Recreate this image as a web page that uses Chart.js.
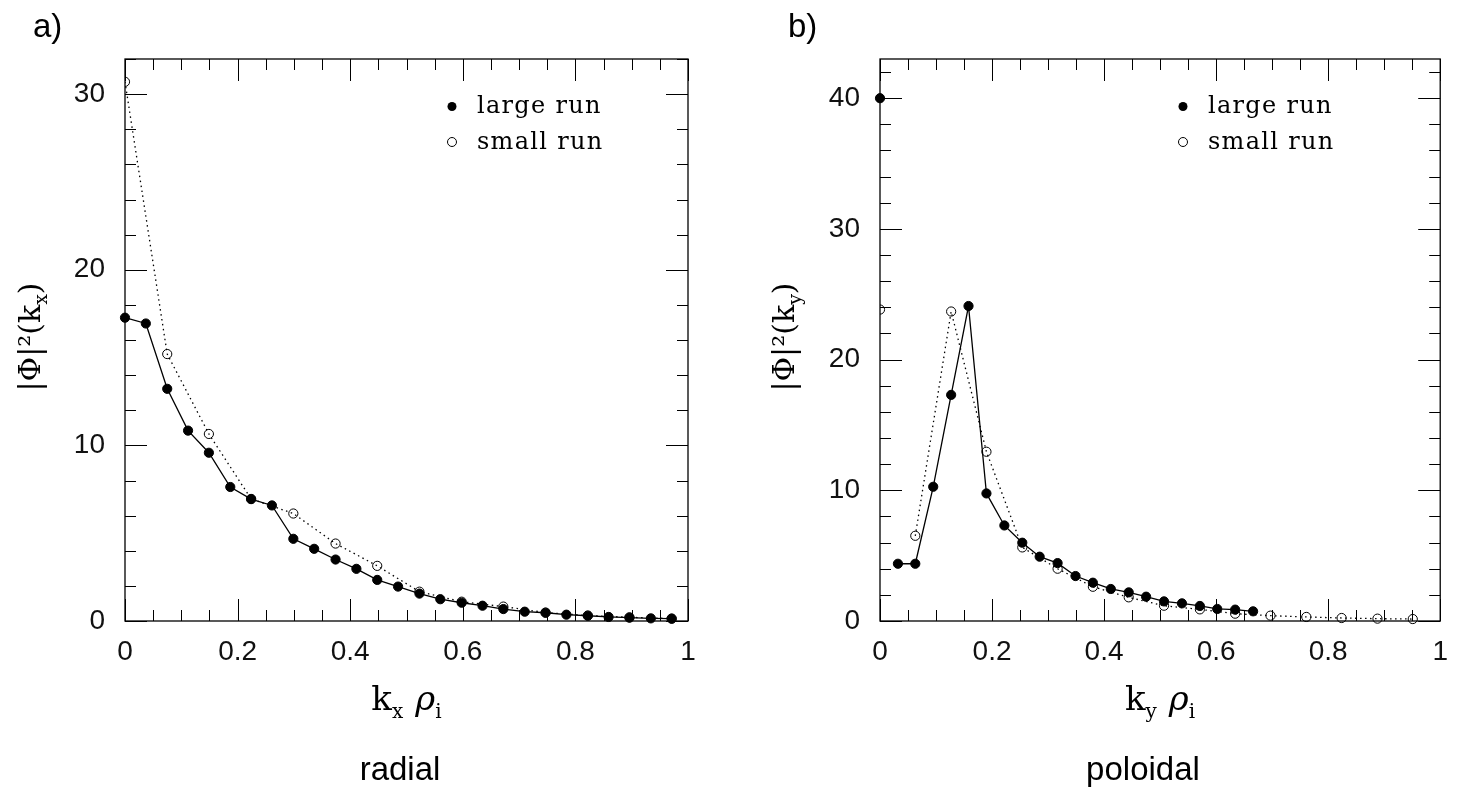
<!DOCTYPE html>
<html>
<head>
<meta charset="utf-8">
<script src="https://cdn.jsdelivr.net/npm/chart.js@4.4.0/dist/chart.umd.min.js"></script>
<style>
html, body { margin: 0; padding: 0; background: #fff; }
#wrap { position: relative; width: 1462px; height: 788px; }
canvas { position: absolute; top: 0; }
#c1 { left: 0; }
#c2 { left: 731px; }
</style>
</head>
<body>
<div id="wrap">
  <canvas id="c1" width="731" height="788"></canvas>
  <canvas id="c2" width="731" height="788"></canvas>
</div>
<script>
// panel a) radial spectrum
const kxLarge = [0, 0.037, 0.075, 0.112, 0.149, 0.187, 0.224, 0.261, 0.299, 0.336, 0.374, 0.411, 0.448, 0.485,
                 0.523, 0.560, 0.598, 0.635, 0.672, 0.710, 0.747, 0.784, 0.822, 0.859, 0.896, 0.934, 0.971];
const phiXLarge = [17.27, 16.94, 13.22, 10.84, 9.58, 7.63, 6.94, 6.58, 4.68, 4.11, 3.50, 2.97, 2.34, 1.96,
                   1.56, 1.24, 1.04, 0.87, 0.68, 0.53, 0.47, 0.36, 0.30, 0.23, 0.19, 0.15, 0.13];
const kxSmall = [0, 0.075, 0.149, 0.224, 0.299, 0.374, 0.448, 0.523, 0.598, 0.672, 0.747, 0.822, 0.896, 0.971];
const phiXSmall = [30.7, 15.2, 10.65, 6.95, 6.12, 4.41, 3.14, 1.67, 1.10, 0.82, 0.48, 0.31, 0.21, 0.14];

// panel b) poloidal spectrum
const kyLarge = [0, 0.032, 0.063, 0.095, 0.127, 0.158, 0.190, 0.222, 0.254, 0.285, 0.317,
                 0.349, 0.380, 0.412, 0.444, 0.475, 0.507, 0.539, 0.571, 0.602, 0.634, 0.666];
const phiYLarge = [40.0, 4.38, 4.38, 10.27, 17.3, 24.1, 9.76, 7.31, 5.99, 4.92, 4.43,
                   3.44, 2.93, 2.45, 2.19, 1.86, 1.50, 1.35, 1.15, 0.92, 0.87, 0.74];
const kySmall = [0, 0.063, 0.127, 0.190, 0.254, 0.317, 0.380, 0.444, 0.507, 0.571, 0.634, 0.697, 0.761, 0.824, 0.888, 0.951];
const phiYSmall = [23.83, 6.52, 23.68, 12.95, 5.63, 4.0, 2.62, 1.81, 1.17, 0.89, 0.56, 0.41, 0.31, 0.23, 0.18, 0.15];

const seriesNames = ['large run', 'small run'];
const xTicks = [0, 0.2, 0.4, 0.6, 0.8, 1];
const xTickLabels = ['0', '0.2', '0.4', '0.6', '0.8', '1'];
const yTicksA = [0, 10, 20, 30];
const yTicksB = [0, 10, 20, 30, 40];

const SERIF = '"DejaVu Serif", serif';
const SANS = '"Liberation Sans", Arial, sans-serif';

function pts(xs, ys) {
    return xs.map((x, i) => ({ x: x, y: ys[i] }));
}

// draw a run of text pieces (for subscripts), centred on cx
function drawParts(ctx, parts, cx, y) {
    let w = 0;
    parts.forEach(p => { ctx.font = p.f; w += ctx.measureText(p.t).width + (p.gap || 0); });
    let x = cx - w / 2;
    parts.forEach(p => {
        ctx.font = p.f;
        ctx.fillText(p.t, x, y + (p.dy || 0));
        x += ctx.measureText(p.t).width + (p.gap || 0);
    });
}

// inward ticks on all four sides + frame
const framePlugin = {
    id: 'frame',
    afterDraw(chart, args, o) {
        const { ctx, chartArea: a, scales: { x, y } } = chart;
        ctx.save();
        ctx.strokeStyle = '#000';
        ctx.lineWidth = 1;
        ctx.beginPath();
        for (let n = 0; n <= 20; n++) {
            const px = Math.round(x.getPixelForValue(n * 0.05)) + 0.5;
            const len = n % 4 === 0 ? 22 : 11;
            ctx.moveTo(px, a.bottom); ctx.lineTo(px, a.bottom - len);
            ctx.moveTo(px, a.top); ctx.lineTo(px, a.top + len);
        }
        for (let v = 0; v <= o.yMax; v += 2) {
            const py = Math.round(y.getPixelForValue(v)) + 0.5;
            const len = v % 10 === 0 ? 22 : 11;
            ctx.moveTo(a.left, py); ctx.lineTo(a.left + len, py);
            ctx.moveTo(a.right, py); ctx.lineTo(a.right - len, py);
        }
        ctx.stroke();
        ctx.lineWidth = 1.3;
        ctx.strokeRect(a.left, a.top, a.right - a.left, a.bottom - a.top);
        ctx.restore();
    }
};

// titles, panel letter, legend
const textPlugin = {
    id: 'texts',
    afterDraw(chart, args, o) {
        const { ctx, chartArea: a } = chart;
        ctx.save();
        ctx.fillStyle = '#000';
        ctx.textBaseline = 'alphabetic';
        ctx.textAlign = 'left';

        ctx.font = '33px ' + SANS;
        ctx.fillText(o.letter, o.letterX, 37);

        const cx = (a.left + a.right) / 2;
        drawParts(ctx, [
            { t: 'k', f: '34px ' + SERIF },
            { t: o.sym, f: '20px ' + SERIF, dy: 8, gap: 12 },
            { t: 'ρ', f: 'italic 34px ' + SERIF },
            { t: 'i', f: '20px ' + SERIF, dy: 8 }
        ], cx, 710);

        ctx.font = '33px ' + SANS;
        ctx.textAlign = 'center';
        ctx.fillText(o.sub, o.subX, 780);
        ctx.textAlign = 'left';

        ctx.save();
        ctx.translate(o.yTitleX, 337);
        ctx.rotate(-Math.PI / 2);
        drawParts(ctx, [
            { t: '|Φ|²(k', f: '30px ' + SERIF },
            { t: o.sym, f: '19px ' + SERIF, dy: 7 },
            { t: ')', f: '30px ' + SERIF }
        ], 0, 0);
        ctx.restore();

        // legend
        const lx = 452;
        ctx.beginPath();
        ctx.arc(lx, 106.5, 4.5, 0, Math.PI * 2);
        ctx.fill();
        ctx.beginPath();
        ctx.lineWidth = 1;
        ctx.arc(lx, 142, 4.5, 0, Math.PI * 2);
        ctx.stroke();
        ctx.font = '24px ' + SERIF;
        ctx.letterSpacing = '1.3px';
        ctx.fillText(seriesNames[0], lx + 25, 113);
        ctx.fillText(seriesNames[1], lx + 25, 149);
        ctx.letterSpacing = '0px';
        ctx.restore();
    }
};

function makeChart(id, large, small, opts) {
    const ctx = document.getElementById(id).getContext('2d');
    const skipFirst = c => (opts.skipFirst && c.p0DataIndex === 0) ? 'rgba(0,0,0,0)' : '#000';
    return new Chart(ctx, {
        type: 'line',
        data: {
            datasets: [{
                label: seriesNames[0],
                data: large,
                borderColor: '#000',
                borderWidth: 1.3,
                pointRadius: 4.6,
                pointBackgroundColor: '#000',
                pointBorderColor: '#000',
                pointBorderWidth: 1,
                tension: 0,
                clip: false,
                segment: { borderColor: skipFirst }
            }, {
                label: seriesNames[1],
                data: small,
                borderColor: '#000',
                borderWidth: 1.3,
                borderDash: [1.5, 3.5],
                pointRadius: 4.6,
                pointBackgroundColor: 'rgba(0,0,0,0)',
                pointBorderColor: '#000',
                pointBorderWidth: 1,
                tension: 0,
                clip: { left: 0, top: 10, right: 10, bottom: 10 },
                segment: { borderColor: skipFirst }
            }]
        },
        options: {
            responsive: false,
            animation: false,
            events: [],
            layout: { padding: { left: 0, right: opts.padRight, top: 59, bottom: 0 } },
            plugins: {
                legend: { display: false },
                tooltip: { enabled: false },
                frame: { yMax: opts.yMax },
                texts: opts.texts
            },
            scales: {
                x: {
                    type: 'linear',
                    min: 0,
                    max: 1,
                    grid: { display: false, drawTicks: false },
                    border: { display: false },
                    afterBuildTicks: s => { s.ticks = xTicks.map(v => ({ value: v })); },
                    afterFit: s => { s.height = 167; },
                    ticks: {
                        padding: 14,
                        color: '#111',
                        maxRotation: 0,
                        font: { family: SANS, size: 28 },
                        callback: (v, i) => xTickLabels[i]
                    }
                },
                y: {
                    type: 'linear',
                    min: 0,
                    max: opts.yMax,
                    grid: { display: false, drawTicks: false },
                    border: { display: false },
                    afterBuildTicks: s => { s.ticks = opts.yTicks.map(v => ({ value: v })); },
                    afterFit: s => { s.width = opts.yWidth; },
                    ticks: {
                        padding: 20,
                        color: '#111',
                        font: { family: SANS, size: 28 },
                        callback: v => String(v)
                    }
                }
            }
        },
        plugins: [framePlugin, textPlugin]
    });
}

makeChart('c1', pts(kxLarge, phiXLarge), pts(kxSmall, phiXSmall), {
    yMax: 32, yTicks: yTicksA, yWidth: 125, padRight: 43, skipFirst: false,
    texts: { letter: 'a)', letterX: 33, sym: 'x', sub: 'radial', subX: 400, yTitleX: 40 }
});

makeChart('c2', pts(kyLarge, phiYLarge), pts(kySmall, phiYSmall), {
    yMax: 43, yTicks: yTicksB, yWidth: 149, padRight: 20, skipFirst: true,
    texts: { letter: 'b)', letterX: 57, sym: 'y', sub: 'poloidal', subX: 412, yTitleX: 63 }
});
</script>
</body>
</html>
